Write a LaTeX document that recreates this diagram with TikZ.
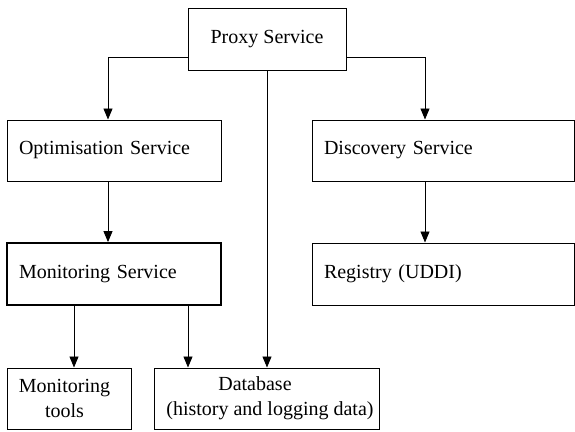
\documentclass[tikz,border=0pt]{standalone}
\usepackage{fontspec}
\setmainfont{Liberation Serif}
\usetikzlibrary{arrows.meta}
\begin{document}
\begin{tikzpicture}[x=1pt,y=-1pt,
  box/.style={draw,line width=1pt,minimum height=61pt,inner xsep=12pt,inner ysep=0pt,
    font=\fontsize{20}{25}\selectfont,anchor=center},
  arr/.style={line width=0.9pt,-{Triangle[length=11pt,width=9pt]}}]
\useasboundingbox (0,0) rectangle (575,431);
\node[box,minimum width=158pt,minimum height=62pt] (P) at (267,39) {Proxy Service};
\node[box,text width=190pt,align=left] (O) at (114,150.5) {Optimisation Service};
\node[box,text width=238pt,align=left] (D) at (443,150.5) {Discovery Service};
\node[box,text width=190pt,align=left,line width=1.8pt,minimum height=62pt] (M) at (114,274) {Monitoring Service};
\node[box,text width=238pt,align=left,minimum height=62pt] (R) at (443,274) {Registry (UDDI)};
\node[box,text width=100pt,align=left] (T) at (69,398.5) {\makebox[91pt][c]{Monitoring}\\\makebox[91pt][c]{tools}};
\node[box,inner xsep=0pt,minimum width=225pt,align=center] (B) at (266.5,398.5) {\makebox[225pt][c]{\hspace*{-23pt}Database}\\\makebox[225pt][c]{\hspace*{7pt}(history and logging data)}};
\draw[arr] ([yshift=-18pt]P.west) -| ([xshift=-6pt]O.north);
\draw[arr] ([yshift=-18pt]P.east) -| ([xshift=-18pt]D.north);
\draw[arr] (P.south) -- (P.south |- B.north);
\draw[arr] ([xshift=-6pt]O.south) -- ([xshift=-6pt]M.north);
\draw[arr] ([xshift=-18pt]D.south) -- ([xshift=-18pt]R.north);
\draw[arr] ([xshift=5pt]T.north |- M.south) -- ([xshift=5pt]T.north);
\draw[arr] ([xshift=-78.5pt]B.north |- M.south) -- ([xshift=-78.5pt]B.north);
\end{tikzpicture}
\end{document}
